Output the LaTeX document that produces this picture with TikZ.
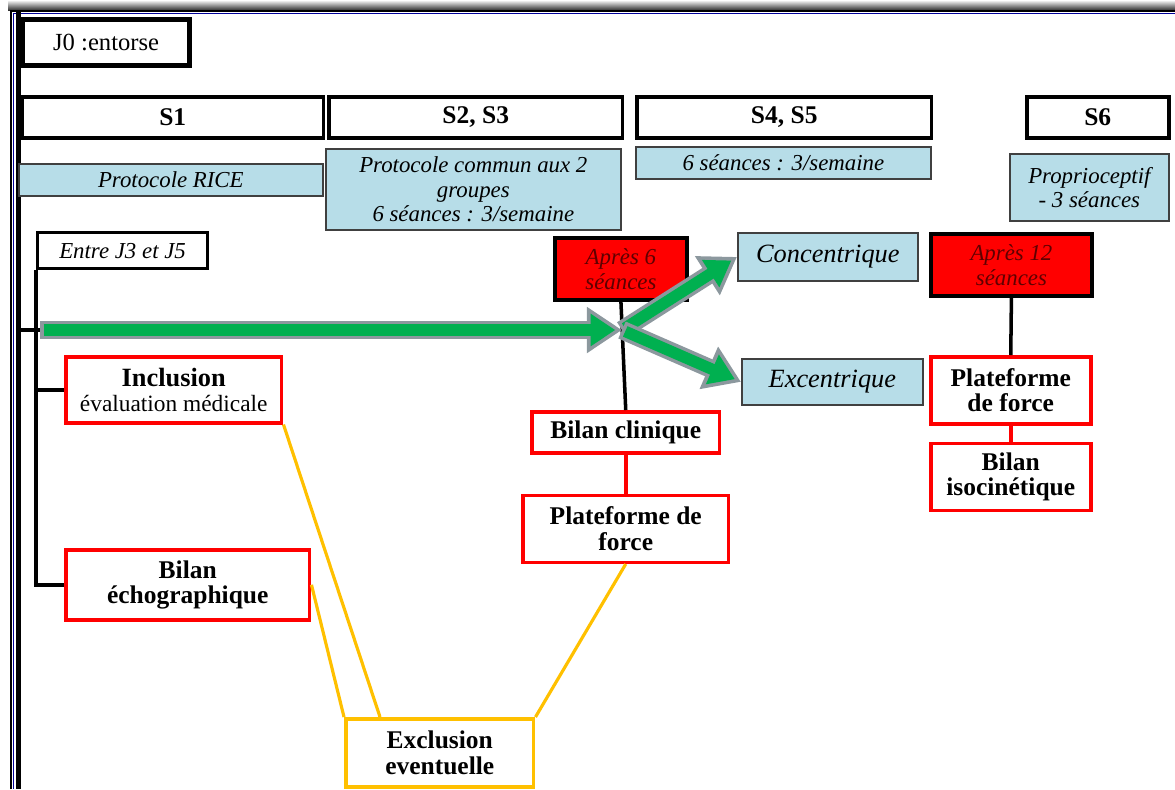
\documentclass[tikz,border=0pt]{standalone}
\usepackage{fontspec}
\setmainfont{Liberation Serif}
\usepackage{xcolor}
\usepackage{tikz}
\usetikzlibrary{arrows.meta, positioning}
\definecolor{lightblue}{RGB}{183,221,232}
\definecolor{darkred}{RGB}{95,0,0}
\definecolor{exclyellow}{RGB}{255,192,0}
\definecolor{flowgreen}{RGB}{0,176,80}
\definecolor{flowgray}{RGB}{140,152,158}
\tikzset{
    base/.style={align=center, inner sep=2pt, anchor=north west, font=\fontsize{13}{14}\selectfont},
    week/.style={base, rectangle, draw=black, line width=2pt, fill=white, font=\fontsize{14.5}{15}\selectfont\bfseries},
    soin/.style={base, rectangle, draw=black!75, line width=1pt, fill=lightblue, font=\fontsize{13}{14}\selectfont\itshape},
    delai/.style={base, rectangle, draw=black, line width=2.2pt, fill=red, text=darkred, font=\fontsize{13}{14}\selectfont\itshape},
    bilan/.style={base, rectangle, draw=red, line width=2pt, fill=white, font=\fontsize{14.5}{14.5}\selectfont\bfseries},
    exclu/.style={bilan, draw=exclyellow},
    line/.style={draw=black, line width=2pt},
    red-line/.style={draw=red, line width=2pt},
    yellow-line/.style={draw=exclyellow, line width=1.8pt},
    flowout/.style={draw=flowgray, line width=10.5pt, -{Triangle[length=20pt,width=25pt]}},
    flowin/.style={draw=flowgreen, line width=6.5pt, shorten <=2pt, shorten >=3.8pt, -{Triangle[length=14pt,width=17.5pt]}}
}

\begin{document}
\begin{tikzpicture}[x=0.02cm, y=-0.02cm]
    \useasboundingbox (0,0) rectangle (1175,789);
    % cadre
    \shade[top color=white, bottom color=black!80] (8,0) rectangle (1175,10);
    \draw[black, line width=1.4pt] (11,789) |- (1175,11);
    \draw[blue!60!black, line width=0.7pt] (13.5,789) |- (1175,13.5);
    \draw[black, line width=3pt] (18.5,12) -- (18.5,789);
    \coordinate (Axis) at (18.5,12);

    \node [week, font=\fontsize{14}{15}\selectfont, line width=3pt, minimum width=3.34cm, minimum height=0.92cm] (J0) at (20,17) {J0 :entorse};

    \node [week, minimum width=6.04cm, minimum height=0.82cm] (S1) at (20,95) {S1};
    \node [week, minimum width=5.88cm, minimum height=0.82cm] (S23) at (327,95) {S2, S3};
    \node [week, minimum width=5.9cm, minimum height=0.82cm] (S45) at (635,95) {S4, S5};
    \node [week, minimum width=2.84cm, minimum height=0.82cm] (S6) at (1025,95) {S6};

    \node [soin, minimum width=6.08cm, minimum height=0.64cm] (Rice) at (18,163) {Protocole RICE};
    \node [soin, minimum width=5.9cm, minimum height=1.62cm] (Commun) at (325,148) {Protocole commun aux 2\\groupes\\6 séances : 3/semaine};
    \node [soin, minimum width=5.9cm, minimum height=0.64cm] (Rythme) at (635,146) {6 séances : 3/semaine};
    \node [soin, minimum width=3.18cm, minimum height=1.34cm] (Proprio) at (1009,153) {Proprioceptif\\- 3 séances};

    \node [week, font=\fontsize{13}{14}\selectfont\itshape, line width=1.8pt, minimum width=3.4cm, minimum height=0.72cm] (Entre) at (36,231) {Entre J3 et J5};

    \node [delai, minimum width=2.64cm, minimum height=1.24cm] (Apres6) at (553,236) {Après 6\\séances};
    \node [delai, minimum width=3.22cm, minimum height=1.24cm] (Apres12) at (929,232) {Après 12\\séances};
    \node [soin, font=\fontsize{15}{16}\selectfont\itshape, minimum width=3.6cm, minimum height=0.96cm] (Conc) at (737,232) {Concentrique};
    \node [soin, font=\fontsize{15}{16}\selectfont\itshape, minimum width=3.62cm, minimum height=0.92cm] (Exc) at (741,358) {Excentrique};

    \node [bilan, minimum width=4.32cm, minimum height=1.32cm] (Incl) at (64,355) {\fontsize{15}{15}\selectfont Inclusion\\{\normalfont\fontsize{13.3}{14}\selectfont évaluation médicale}};
    \node [bilan, minimum width=4.88cm, minimum height=1.4cm] (Echo) at (64,548) {Bilan\\échographique};
    \node [bilan, minimum width=3.76cm, minimum height=0.82cm] (Clinique) at (530,410) {Bilan clinique};
    \node [bilan, minimum width=4.12cm, minimum height=1.34cm, below=0.78cm of Clinique] (PlatM) {Plateforme de\\force};
    \node [bilan, minimum width=3.2cm, minimum height=1.34cm] (PlatR) at (929,355) {Plateforme\\de force};
    \node [bilan, minimum width=3.2cm, minimum height=1.34cm, below=0.32cm of PlatR] (Isocin) {Bilan\\isocinétique};
    \node [exclu, minimum width=3.76cm, minimum height=1.36cm] (Excl) at (344,717) {Exclusion\\eventuelle};

    \coordinate (Start) at (40,330);
    \coordinate (Split) at (622,330);

    \draw [line] (Start -| Axis) -- (Start);
    \draw [line] (Entre.south west) |- (Echo.west);
    \draw [line] (Entre.south west |- Incl.west) -- (Incl.west);
    \draw [line] (Apres6.south) -- (Clinique.north);
    \draw [line] (Apres12.south) -- (PlatR.north);
    \draw [red-line] (Clinique) -- (PlatM);
    \draw [red-line] (PlatR) -- (Isocin);

    \draw [yellow-line] (Incl.south east) -- ([xshift=0.72cm]Excl.north west);
    \draw [yellow-line] (Echo.east) -- (Excl.north west);
    \draw [yellow-line] (PlatM.south) -- (Excl.north east);

    \draw [flowout] (Start) -- (Split);
    \draw [flowin] (Start) -- (Split);
    \foreach \t in {Conc, Exc} {
        \draw [flowout] (Split) -- (\t.west);
        \draw [flowin] (Split) -- (\t.west);
    }
\end{tikzpicture}
\end{document}
